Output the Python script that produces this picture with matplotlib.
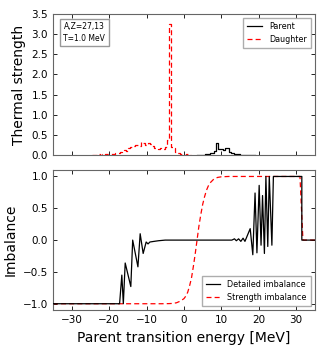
import numpy as np
import matplotlib
matplotlib.use('Agg')
import matplotlib.pyplot as plt

# Thermal strength, step histograms (left bin edges, MeV)
daughter_e = [-24.5, -24, -23.5, -23, -22.5, -22, -21.5, -21, -20.5, -20, -19.5, -19,
              -18.5, -18, -17.5, -17, -16.5, -16, -15.5, -15, -14.5, -14, -13.5, -13,
              -12.5, -12, -11.5, -11, -10.5, -10, -9.5, -9, -8.5, -8, -7.5, -7, -6.5,
              -6, -5.5, -5, -4.5, -4, -3.5, -3, -2.5, -2, -1.5, -1, -0.5, 0, 0.5, 1,
              1.5, 2]
daughter_s = [0.0, 0.01, 0.01, 0.015, 0.01, 0.02, 0.01, 0.02, 0.015, 0.03, 0.02, 0.03,
              0.04, 0.06, 0.05, 0.08, 0.1, 0.12, 0.11, 0.18, 0.2, 0.19, 0.22, 0.24, 0.25,
              0.22, 0.33, 0.3, 0.24, 0.28, 0.3, 0.27, 0.22, 0.17, 0.18, 0.16, 0.17,
              0.14, 0.15, 0.2, 0.38, 3.25, 0.2, 0.18, 0.08, 0.05, 0.04, 0.02, 0.02,
              0.01, 0.02, 0.01, 0.005, 0.0]

parent_e = [3.5, 4, 4.5, 5, 5.5, 6, 6.5, 7, 7.5, 8, 8.5, 9, 9.5, 10, 10.5, 11, 11.5, 12,
            12.5, 13, 13.5, 14, 14.5, 15, 15.5, 16, 17, 18, 19]
parent_s = [0.0, 0.005, 0.01, 0.01, 0.015, 0.02, 0.03, 0.04, 0.05, 0.1, 0.31, 0.16, 0.15,
            0.14, 0.13, 0.17, 0.17, 0.07, 0.05, 0.04, 0.03, 0.02, 0.015, 0.01, 0.008,
            0.005, 0.004, 0.003, 0.0]

# Imbalance curves
detailed_e = [-35, -17.2, -16.6, -16.2, -15.7, -14.2, -13.7, -12.3, -11.7, -10.9, -10.1,
              -9.6, -9.1, -8.0, -6.8, -5.0, 12.8, 13.5, 14.0, 14.6, 15.2, 15.8, 16.3, 17.0,
              17.7, 18.4, 19.0, 19.5, 20.1, 20.6, 21.0, 21.5, 21.9, 22.4, 22.8, 23.5, 23.9,
              31.5, 31.5, 35]
detailed_i = [-1.0, -1.0, -0.55, -1.0, -0.36, -0.73, 0.0, -0.42, 0.1, -0.21, -0.03,
              -0.06, -0.03, -0.02, -0.01, 0.0, 0.0, 0.02, -0.01, 0.02, -0.02, 0.03, -0.02, 0.08,
              0.18, -0.23, 0.74, -0.2, 0.86, -0.08, 0.70, -0.21, 1.0, -0.1, 1.0, -0.08, 1.0,
              1.0, 0.0, 0.0]

strength_e = [-35, -6, -4, -3, -2, -1, 0, 0.5, 1, 1.5, 2, 2.5, 3, 3.5, 4, 4.5, 5, 5.5, 6,
              6.5, 7, 8, 9, 10, 12, 31.0, 31.8, 35]
strength_i = [-1.0, -1.0, -0.998, -0.995, -0.985, -0.96, -0.92, -0.88, -0.82, -0.72, -0.6,
              -0.42, -0.22, 0.0, 0.22, 0.4, 0.56, 0.68, 0.78, 0.85, 0.9, 0.96, 0.985,
              0.995, 1.0, 1.0, 0.0, 0.0]

plt.rcParams['font.family'] = 'DejaVu Sans'
plt.rcParams['xtick.direction'] = 'in'
plt.rcParams['ytick.direction'] = 'in'
plt.rcParams['xtick.top'] = True
plt.rcParams['ytick.right'] = True

DASH = (4, 2.5)

fig = plt.figure(figsize=(3.25, 3.5), dpi=100)
ax1 = fig.add_axes([0.163, 0.557, 0.806, 0.403])
ax2 = fig.add_axes([0.163, 0.114, 0.806, 0.40], sharex=ax1)

ax1.step(parent_e, parent_s, where='post', color='black', lw=0.9, label='Parent', zorder=3)
ax1.step(daughter_e, daughter_s, where='post', color='red', lw=0.9, ls='--', dashes=DASH,
         label='Daughter')
ax1.set_ylim(0, 3.5)
ax1.set_yticks(np.arange(0, 3.51, 0.5))
ax1.set_ylabel('Thermal strength', fontsize=10)
ax1.tick_params(labelbottom=False)
ax1.legend(loc='upper right', fontsize=5.8, handlelength=1.8, borderpad=0.5,
           handletextpad=0.9, fancybox=False, edgecolor='0.6')
ax1.text(0.04, 0.94, 'A,Z=27,13\nT=1.0 MeV', transform=ax1.transAxes, fontsize=5.5,
         va='top', ha='left', linespacing=1.3,
         bbox=dict(boxstyle='square,pad=0.5', fc='white', ec='0.6'))

ax2.plot(detailed_e, detailed_i, color='black', lw=0.9, label='Detailed imbalance', zorder=3)
ax2.plot(strength_e, strength_i, color='red', lw=0.9, ls='--', dashes=DASH,
         label='Strength imbalance')
ax2.set_xlim(-35, 35)
ax2.set_ylim(-1.1, 1.1)
ax2.set_xticks([-30, -20, -10, 0, 10, 20, 30])
ax2.set_yticks([-1.0, -0.5, 0.0, 0.5, 1.0])
ax2.set_ylabel('Imbalance', fontsize=10)
ax2.set_xlabel('Parent transition energy [MeV]', fontsize=10)
ax2.legend(loc='lower right', fontsize=5.8, handlelength=1.8, borderpad=0.5,
           handletextpad=0.9, fancybox=False, edgecolor='0.6')

for ax in (ax1, ax2):
    ax.tick_params(labelsize=7.5, length=3, width=0.6)
    for sp in ax.spines.values():
        sp.set_color('0.4')

plt.savefig('out.png', dpi=100)
plt.close()
